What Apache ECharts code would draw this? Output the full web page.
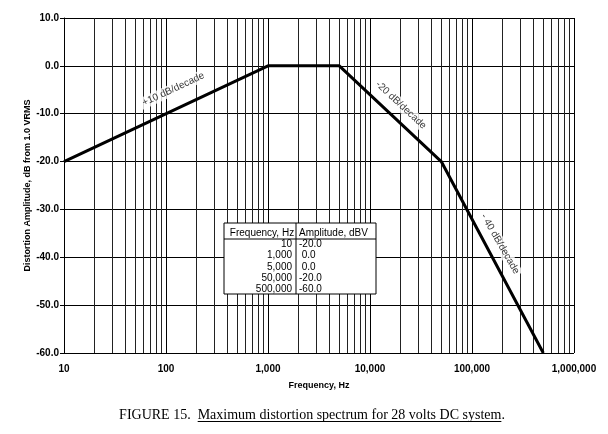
<!DOCTYPE html>
<html>
<head>
<meta charset="utf-8">
<script src="https://cdn.jsdelivr.net/npm/echarts@6/dist/echarts.min.js"></script>
<style>
  html, body { margin: 0; padding: 0; background: #fff; }
  #chart { width: 608px; height: 434px; }
</style>
</head>
<body>
<div id="chart"></div>
<script>
// spectrum breakpoints
var freqs = [10, 1000, 5000, 50000, 500000];
var amps = [-20, 0, 0, -20, -60];
// minor gridlines on the log axis
var minorFreqs = [];
[10, 100, 1000, 10000, 100000].forEach(function (d) {
  for (var k = 2; k <= 9; k++) minorFreqs.push(d * k);
});
// slope notes: [freq, amp, text, rotate]
var slopeNotes = [
  [118, -4.9, '+10 dB/decade', 25],
  [20100, -8.2, '-20 dB/decade', -43],
  [188000, -37.2, '- 40 dB/decade', -60]
];
var tableHead = ['Frequency, Hz', 'Amplitude, dBV'];
var tableFreq = ['10', '1,000', '5,000', '50,000', '500,000'];
var tableAmp = ['-20.0', ' 0.0', ' 0.0', '-20.0', '-60.0'];

var sans = 'Liberation Sans, Arial, sans-serif';
var serif = 'Liberation Serif, Times New Roman, serif';

var chart = echarts.init(document.getElementById('chart'));

// table graphics
var tbl = [
  { type: 'rect', shape: { x: 224, y: 223, width: 152, height: 71 },
    style: { fill: '#fff', stroke: '#000', lineWidth: 1 } },
  { type: 'line', shape: { x1: 224, y1: 239, x2: 376, y2: 239 }, style: { stroke: '#000', lineWidth: 1 } },
  { type: 'line', shape: { x1: 296, y1: 223, x2: 296, y2: 294 }, style: { stroke: '#000', lineWidth: 1 } },
  { type: 'text', x: 262, y: 233, style: { text: tableHead[0], font: '10px ' + sans, fill: '#000', align: 'center', verticalAlign: 'middle' } },
  { type: 'text', x: 299, y: 233, style: { text: tableHead[1], font: '10px ' + sans, fill: '#000', align: 'left', verticalAlign: 'middle' } }
];
tableFreq.forEach(function (f, i) {
  var y = 244.5 + i * 11.2;
  tbl.push({ type: 'text', x: 292, y: y, style: { text: f, font: '10px ' + sans, fill: '#000', align: 'right', verticalAlign: 'middle' } });
  tbl.push({ type: 'text', x: 299, y: y, style: { text: tableAmp[i], font: '10px ' + sans, fill: '#000', align: 'left', verticalAlign: 'middle', whiteSpace: 'pre' } });
});
tbl.forEach(function (g) { g.z = 100; });

// caption with underline
var ctx = document.createElement('canvas').getContext('2d');
ctx.font = '14px ' + serif;
var capA = 'FIGURE 15.  ', capB = 'Maximum distortion spectrum for 28 volts DC system', capC = '.';
var wA = ctx.measureText(capA).width, wB = ctx.measureText(capB).width, wC = ctx.measureText(capC).width;
var capX = 312 - (wA + wB + wC) / 2;
var cap = [
  { type: 'text', x: capX, y: 415, style: { text: capA + capB + capC, font: '14px ' + serif, fill: '#000', align: 'left', verticalAlign: 'middle' } },
  { type: 'line', shape: { x1: capX + wA, y1: 421.5, x2: capX + wA + wB, y2: 421.5 }, style: { stroke: '#000', lineWidth: 1 } }
];

var option = {
  animation: false,
  backgroundColor: '#fff',
  grid: { left: 64, right: 34, top: 18, bottom: 81 },
  xAxis: {
    type: 'log',
    logBase: 10,
    min: 10,
    max: 1000000,
    name: 'Frequency, Hz',
    nameLocation: 'middle',
    nameGap: 28,
    nameMoveOverlap: false,
    nameTextStyle: { fontFamily: sans, fontSize: 9, fontWeight: 'bold', color: '#000' },
    axisLine: { show: true, lineStyle: { color: '#000', width: 1 } },
    axisTick: { show: true, length: 3, lineStyle: { color: '#000' } },
    axisLabel: {
      fontFamily: sans, fontSize: 10, fontWeight: 'bold', color: '#000', margin: 11,
      formatter: function (v) { return Math.round(v).toLocaleString('en-US'); }
    },
    splitLine: { show: true, lineStyle: { color: '#000', width: 1 } }
  },
  yAxis: {
    type: 'value',
    min: -60,
    max: 10,
    interval: 10,
    name: 'Distortion Amplitude, dB from 1.0 VRMS',
    nameLocation: 'middle',
    nameGap: 32,
    nameMoveOverlap: false,
    nameTextStyle: { fontFamily: sans, fontSize: 9, fontWeight: 'bold', color: '#000' },
    axisLine: { show: true, lineStyle: { color: '#000', width: 1 } },
    axisTick: { show: true, length: 4, lineStyle: { color: '#000' } },
    axisLabel: {
      fontFamily: sans, fontSize: 10, fontWeight: 'bold', color: '#000', margin: 5,
      formatter: function (v) { return v.toFixed(1); }
    },
    splitLine: { show: true, lineStyle: { color: '#000', width: 1 } }
  },
  series: [
    {
      type: 'line',
      data: freqs.map(function (f, i) { return [f, amps[i]]; }),
      symbol: 'none',
      lineStyle: { color: '#000', width: 3 },
      z: 5,
      markLine: {
        silent: true,
        symbol: 'none',
        animation: false,
        label: { show: false },
        lineStyle: { color: '#222', width: 1, type: 'solid' },
        data: minorFreqs.map(function (f) { return { xAxis: f }; }),
        z: 1
      }
    },
    {
      type: 'scatter',
      symbolSize: 0,
      silent: true,
      z: 10,
      data: slopeNotes.map(function (n) {
        return {
          value: [n[0], n[1]],
          label: {
            show: true, position: 'inside', rotate: n[3], formatter: n[2],
            fontFamily: sans, fontSize: 10, color: '#000',
            backgroundColor: '#fff', padding: [1, 2]
          }
        };
      })
    }
  ],
  graphic: tbl.concat(cap)
};
chart.setOption(option);
</script>
</body>
</html>
